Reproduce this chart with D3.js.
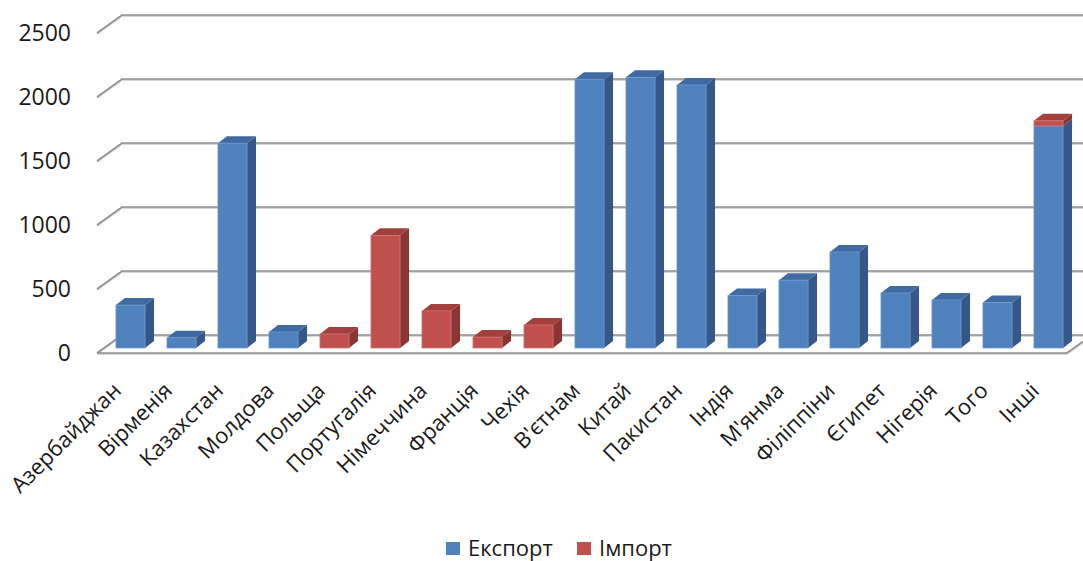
<!DOCTYPE html>
<meta http-equiv="Content-type" content="text/html; charset=UTF-8"/>
<style>body { margin: 0 } * { font-family: 'Open Sans' }</style>
<svg width="1083" height="561"></svg>
<script src="https://d3js.org/d3.v7.min.js"></script>
<script>
var categories = ["Азербайджан", "Вірменія", "Казахстан", "Молдова", "Польща", "Португалія",
  "Німеччина", "Франція", "Чехія", "В'єтнам", "Китай", "Пакистан", "Індія", "М'янма",
  "Філіппіни", "Єгипет", "Нігерія", "Того", "Інші"];
var exportValues = [335, 80, 1600, 125, 0, 0, 0, 0, 0, 2100, 2115, 2055, 410, 530, 750, 430, 375, 355, 1735];
var importValues = [0, 0, 0, 0, 110, 880, 290, 85, 180, 0, 0, 0, 0, 0, 0, 0, 0, 0, 40];
var seriesNames = ["Експорт", "Імпорт"];
var yTicks = [0, 500, 1000, 1500, 2000, 2500];

var colors = {
  "Експорт": {front: "#4f81bd", side: "#355888", top: "#3f6aa2", edge: "#6f9ad0"},
  "Імпорт": {front: "#c0504d", side: "#8b3533", top: "#a33f3c", edge: "#d27572"}
};

var svg = d3.select("svg");

// 3d geometry
var frontX = 97, backX = 122, frontBase = 353, backBase = 335, barBase = 348;
var depthX = 9, depthY = -7;

var x = d3.scaleBand()
    .domain(categories)
    .range([105, 1074])
    .paddingInner(0.43)
    .paddingOuter(0.215);

var h = d3.scaleLinear().domain([0, 2500]).range([0, 320]);

var data = categories.map(function(c, i) {
  return {cat: c, "Експорт": exportValues[i], "Імпорт": importValues[i]};
});
var stacked = d3.stack().keys(seriesNames)(data);

// gridlines on the walls
var grid = svg.append("g");
yTicks.forEach(function(v) {
  var p = "M" + frontX + "," + (frontBase - h(v)) + "L" + backX + "," + (backBase - h(v)) + "L1100," + (backBase - h(v));
  grid.append("path").attr("d", p).attr("transform", "translate(0,1)")
      .attr("fill", "none").attr("stroke", "#d9d9d9").attr("stroke-width", 2);
  grid.append("path").attr("d", p)
      .attr("fill", "none").attr("stroke", "#8f8f8f").attr("stroke-width", 1.6);
});
// floor front edge
var fp = "M" + frontX + "," + frontBase + "L1067," + frontBase + "L1092," + backBase;
grid.append("path").attr("d", fp).attr("transform", "translate(0,1)")
    .attr("fill", "none").attr("stroke", "#d9d9d9").attr("stroke-width", 2);
grid.append("path").attr("d", fp)
    .attr("fill", "none").attr("stroke", "#8f8f8f").attr("stroke-width", 1.6);

// y labels
svg.append("g").selectAll("text")
  .data(yTicks)
  .join("text")
    .attr("x", 71)
    .attr("y", function(d) { return frontBase - h(d); })
    .attr("dy", "0.35em")
    .attr("text-anchor", "end")
    .style("font-size", "23px")
    .attr("fill", "#1a1a1a")
    .text(function(d) { return d; });

// bars
var bw = x.bandwidth();
var bars = svg.append("g");
categories.forEach(function(c, i) {
  var segs = stacked.map(function(s) { return {key: s.key, d: s[i]}; })
    .filter(function(s) { return s.d[1] > s.d[0]; });
  segs.forEach(function(s, j) {
    var col = colors[s.key];
    var x0 = x(c), x1 = x0 + bw;
    var y0 = barBase - h(s.d[0]), y1 = barBase - h(s.d[1]);
    bars.append("polygon")
      .attr("points", [[x1, y1], [x1 + depthX, y1 + depthY], [x1 + depthX, y0 + depthY], [x1, y0]].join(" "))
      .attr("fill", col.side);
    if (j === segs.length - 1) {
      bars.append("polygon")
        .attr("points", [[x0, y1], [x0 + depthX, y1 + depthY], [x1 + depthX, y1 + depthY], [x1, y1]].join(" "))
        .attr("fill", col.top);
    }
    bars.append("rect")
      .attr("x", x0).attr("y", y1)
      .attr("width", bw).attr("height", y0 - y1)
      .attr("fill", col.front)
      .attr("stroke", col.edge).attr("stroke-width", 0.8);
  });
});

// category labels
svg.append("g").selectAll("text")
  .data(categories)
  .join("text")
    .attr("transform", function(d) {
      return "translate(" + (x(d) + bw / 2 - 8) + ",392) rotate(-45)";
    })
    .attr("text-anchor", "end")
    .style("font-size", "22px")
    .attr("fill", "#1a1a1a")
    .text(function(d) { return d; });

// legend
var legendX = [446, 577];
var legend = svg.append("g");
seriesNames.forEach(function(name, i) {
  legend.append("rect")
    .attr("x", legendX[i]).attr("y", 542)
    .attr("width", 14).attr("height", 13)
    .attr("fill", colors[name].front);
  legend.append("text")
    .attr("x", legendX[i] + 22).attr("y", 556)
    .style("font-size", "22px")
    .attr("fill", "#1a1a1a")
    .text(name);
});
</script>
